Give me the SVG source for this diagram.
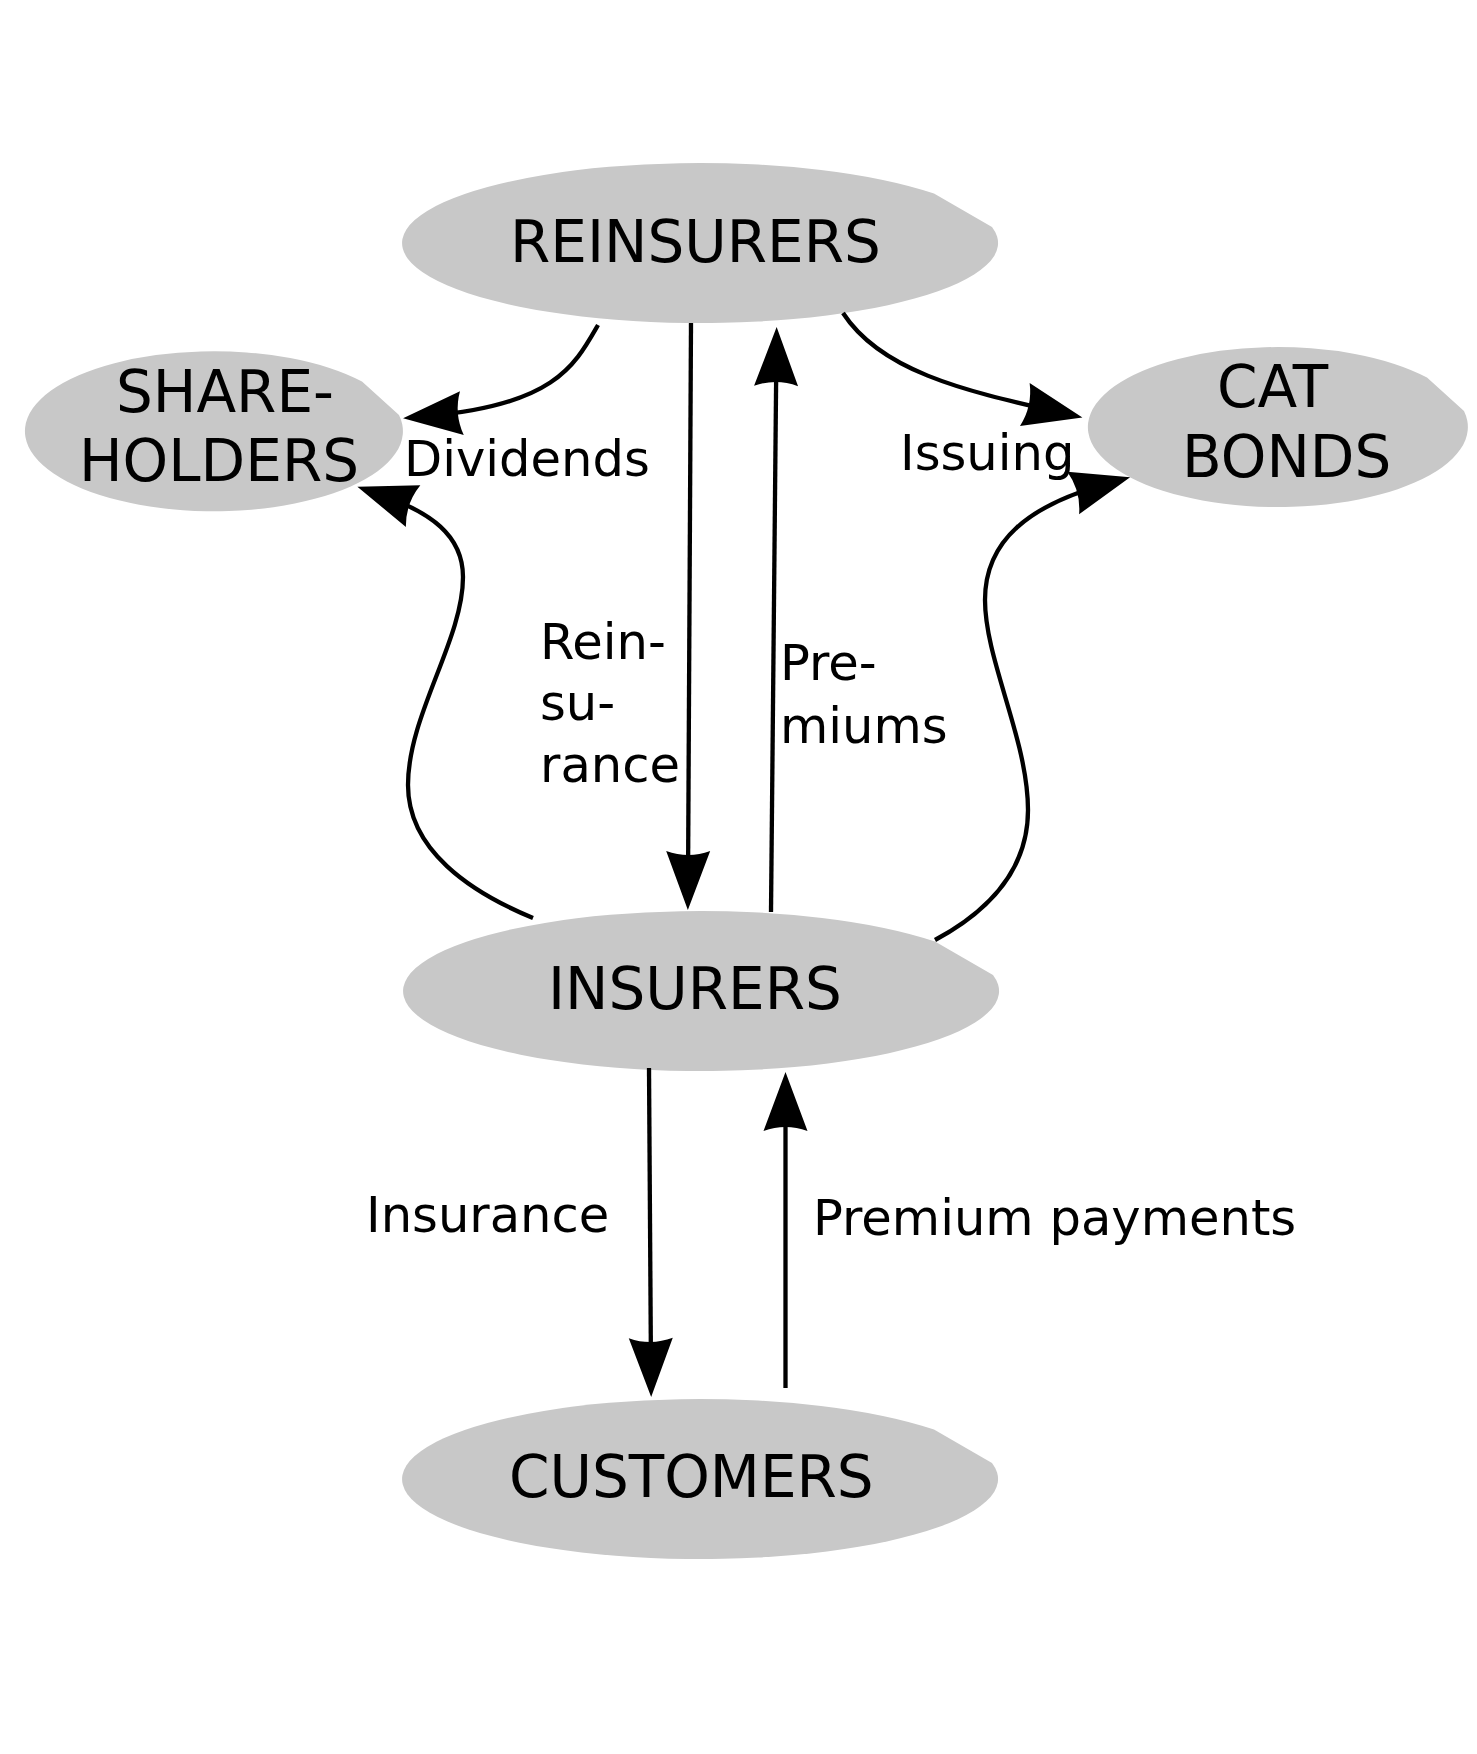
<svg xmlns="http://www.w3.org/2000/svg" width="1477" height="1754" viewBox="0 0 1477 1754">
  <style>
    .node { fill: #c8c8c8; stroke: none; }
    .ntxt { font-family: "DejaVu Sans", sans-serif; font-size: 58px; fill: #000; }
    .ltxt { font-family: "DejaVu Sans", sans-serif; font-size: 49.6px; fill: #000; }
    .edge { fill: none; stroke: #000; stroke-width: 4.3; marker-end: url(#arrow); }
  </style>
  <defs>
    <marker id="arrow" markerUnits="userSpaceOnUse" viewBox="-40 -25 70 50" markerWidth="70" markerHeight="50" refX="0" refY="0" orient="auto" overflow="visible">
      <path d="M 25 0 L -34 -22 Q -26 0 -34 22 Z" fill="#000"/>
    </marker>
  </defs>
  <rect width="1477" height="1754" fill="#fff"/>

  <g id="reinsurers">
    <path class="node" d="M 934 193.5 L 992 227 A 298 80 0 1 1 934 193.5 Z"/>
    <text class="ntxt" x="510" y="262">REINSURERS</text>
  </g>
  <g id="shareholders">
    <path class="node" d="M 362 381.5 L 399 415 A 189 80 0 1 1 362 381.5 Z"/>
    <text class="ntxt" x="116" y="412">SHARE-</text>
    <text class="ntxt" x="79" y="481">HOLDERS</text>
  </g>
  <g id="catbonds">
    <path class="node" d="M 1427 377.5 L 1464 411 A 190 80 0 1 1 1427 377.5 Z"/>
    <text class="ntxt" x="1217" y="407">CAT</text>
    <text class="ntxt" x="1182" y="477">BONDS</text>
  </g>
  <g id="insurers">
    <path class="node" d="M 935 941.5 L 993 975 A 298 80 0 1 1 935 941.5 Z"/>
    <text class="ntxt" x="548" y="1009">INSURERS</text>
  </g>
  <g id="customers">
    <path class="node" d="M 934 1429.5 L 992 1463 A 298 80 0 1 1 934 1429.5 Z"/>
    <text class="ntxt" x="509" y="1497">CUSTOMERS</text>
  </g>

  <g id="connectors">
    <path class="edge" d="M 691 323 L 688 885"/>
    <path class="edge" d="M 771 912 L 776.4 352"/>
    <path class="edge" d="M 598 325 C 575 365 555 405 428 416"/>
    <path class="edge" d="M 843 313 C 880 370 960 390 1058 412"/>
    <path class="edge" d="M 533 918 C 470 892 408 850 408 785 C 408 715 463 640 463 577 C 463 535 430 512 381 495"/>
    <path class="edge" d="M 935 940 C 1000 905 1028 860 1028 810 C 1028 740 985 660 985 600 C 985 540 1030 505 1106 484"/>
    <path class="edge" d="M 649 1068 L 651 1372"/>
    <path class="edge" d="M 785.5 1388 L 785.5 1097"/>
  </g>

  <g id="labels">
    <text class="ltxt" x="404" y="476">Dividends</text>
    <text class="ltxt" x="900" y="470">Issuing</text>
    <text class="ltxt" x="540" y="659">Rein-</text>
    <text class="ltxt" x="540" y="720">su-</text>
    <text class="ltxt" x="540" y="782">rance</text>
    <text class="ltxt" x="780" y="680">Pre-</text>
    <text class="ltxt" x="780" y="743">miums</text>
    <text class="ltxt" x="366" y="1232">Insurance</text>
    <text class="ltxt" x="813" y="1235">Premium payments</text>
  </g>
</svg>
